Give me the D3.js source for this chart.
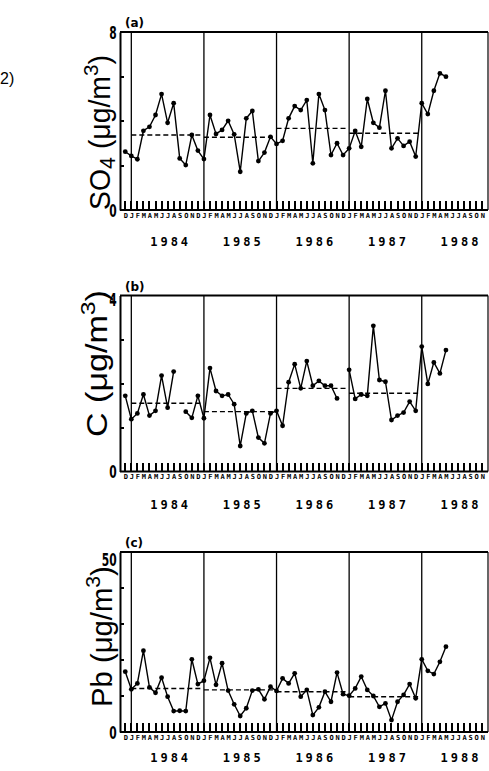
<!DOCTYPE html>
<html><head><meta charset="utf-8">
<script src="https://cdn.jsdelivr.net/npm/d3@7"></script>
<style>body{margin:0;background:#fff;} svg{display:block;}</style>
</head><body>
<svg id="chart" width="489" height="771"></svg>
<script>
// ---- data ----
const monthInitials = ["J","F","M","A","M","J","J","A","S","O","N","D"];
const years = [1984, 1985, 1986, 1987, 1988];
// index 0 = Dec 1983, index 1 = Jan 1984 ... index 53 = May 1988
const so4 = [2.62,2.43,2.28,3.56,3.74,4.27,5.21,3.92,4.80,2.32,2.02,3.37,2.67,
  2.29,4.27,3.42,3.60,4.01,3.40,1.72,4.12,4.45,2.20,2.58,3.29,
  2.97,3.11,4.12,4.67,4.49,4.94,2.10,5.21,4.49,2.47,3.00,2.47,
  2.77,3.55,2.84,4.99,3.92,3.70,5.36,2.77,3.22,2.88,3.07,2.40,
  4.80,4.31,5.36,6.14,5.99];
const carbon = [1.72,1.19,1.32,1.75,1.27,1.38,2.18,1.45,2.27,null,1.36,1.22,1.72,
  1.21,2.35,1.83,1.72,1.75,1.53,0.58,1.32,1.38,0.77,0.64,1.32,
  1.38,1.04,2.03,2.44,1.89,2.51,1.95,2.06,1.95,1.95,1.66,null,
  2.31,1.65,1.75,1.72,3.31,2.08,2.04,1.17,1.27,1.34,1.59,1.38,
  2.84,1.99,2.48,2.23,2.76];
const lead = [16.75,11.85,13.5,22.6,12.4,10.9,15.1,9.8,5.8,5.9,5.8,20.2,13.3,
  14.25,20.6,13.1,19.1,11.5,7.7,4.45,6.6,11.5,11.85,9.1,12.6,
  11.4,14.9,13.5,16.3,9.8,11.7,4.7,6.85,11.2,8.4,16.5,10.5,
  10.1,12.1,15.4,11.7,10.0,7.0,7.95,3.3,8.4,10.3,13.3,9.35,
  20.2,17.0,16.1,19.5,23.7];
const so4Means = [3.37, 3.27, 3.67, 3.45];
const carbonMeans = [1.55, 1.36, 1.89, 1.78];
const leadMeans = [12.1, 11.7, 11.2, 9.8];
const monthLabels = ["D"].concat(years.flatMap(() => monthInitials));

const panels = [
  {tag:"(a)", values:so4, means:so4Means, yMax:8, step:2, top:32, bottom:210,
   yearY:242, species:[["SO",0],["4",1]], titleX:110, titleY0:210, titleLen:155, topLabelDy:0},
  {tag:"(b)", values:carbon, means:carbonMeans, yMax:4, step:1, top:295.5, bottom:471.5,
   yearY:505, species:[["C",0]], titleX:107, titleY0:437, titleLen:147, topLabelDy:4},
  {tag:"(c)", values:lead, means:leadMeans, yMax:50, step:10, top:552, bottom:732,
   yearY:758, species:[["Pb",0]], titleX:112, titleY0:707, titleLen:141, topLabelDy:7}
];

const svg = d3.select("#chart");
const left = 120, right = 488;
const x = d3.scaleLinear().domain([-0.87, 59.95]).range([left, right]);
const monthIdx = d3.range(0, 60);

svg.append("text").attr("x", 0).attr("y", 84)
  .style("font-family","Liberation Sans, Arial, sans-serif").style("font-size","16px")
  .text("2)");

panels.forEach(p => {
  const g = svg.append("g");
  const y = d3.scaleLinear().domain([0, p.yMax]).range([p.bottom, p.top]);
  const yTicks = d3.range(0, p.yMax + p.step/2, p.step);

  // frame: top and right
  g.append("line").attr("x1", left).attr("x2", right).attr("y1", p.top).attr("y2", p.top)
    .attr("stroke","#000").attr("stroke-width",2);
  g.append("line").attr("x1", right).attr("x2", right).attr("y1", p.top).attr("y2", p.bottom)
    .attr("stroke","#000").attr("stroke-width",1.2);

  // left axis (labels only at 0 and max)
  const ya = d3.axisLeft(y).tickValues(yTicks).tickSize(0).tickPadding(4)
    .tickFormat(d => (d === 0 || d === p.yMax) ? d : "");
  const yg = g.append("g").attr("transform", `translate(${left},0)`).call(ya);
  yg.select(".domain").attr("stroke","#000").attr("stroke-width", 2);
  yg.selectAll(".tick text")
    .style("font-family","DejaVu Sans Condensed, DejaVu Sans, sans-serif")
    .style("font-weight","bold").style("font-size","18px")
    .attr("fill","#000")
    .attr("x", -5)
    .attr("transform","scale(0.66,1)")
    .attr("dy", d => d === p.yMax ? (0.35*18 + p.topLabelDy) + "px" : "0.35em");
  // inward minor ticks on the left axis
  g.selectAll("rect.ytick").data(yTicks.slice(1, -1)).enter().append("rect")
    .attr("class","ytick")
    .attr("x", left).attr("y", d => Math.round(y(d)) - 1).attr("width", 4).attr("height", 2)
    .attr("fill","#000");

  // bottom month axis
  const xa = d3.axisBottom(x).tickValues(monthIdx).tickSize(0).tickPadding(3)
    .tickFormat(i => monthLabels[i]);
  const xg = g.append("g").attr("transform", `translate(0,${p.bottom})`).call(xa);
  xg.select(".domain").attr("stroke","#000").attr("stroke-width", 2).attr("d", `M${left},0H${right}`);
  xg.selectAll(".tick text")
    .style("font-family","DejaVu Sans Mono, monospace").style("font-weight","bold")
    .style("font-size","7px").attr("fill","#000");
  // month tick marks pointing up into the plot
  g.selectAll("rect.mtick").data(monthIdx).enter().append("rect")
    .attr("class","mtick")
    .attr("x", d => Math.round(x(d)) - 1).attr("y", Math.round(p.bottom) - 9)
    .attr("width", 2).attr("height", 9)
    .attr("fill","#000");

  // year separators and year labels
  years.forEach((yr, k) => {
    const xi = x(1 + 12*k);
    g.append("line").attr("x1", xi).attr("x2", xi).attr("y1", p.top).attr("y2", p.bottom)
      .attr("stroke","#000").attr("stroke-width",1.3);
    g.append("text").attr("x", x(1 + 12*k + 6.5)).attr("y", p.yearY)
      .attr("text-anchor","middle").attr("dy","0.35em")
      .style("font-family","DejaVu Sans Mono, monospace").style("font-weight","bold")
      .style("font-size","12px").style("letter-spacing","3px")
      .text(yr);
  });

  // annual means (dashed)
  p.means.forEach((m, k) => {
    g.append("line").attr("x1", x(1 + 12*k)).attr("x2", x(1 + 12*k + 11.6))
      .attr("y1", y(m)).attr("y2", y(m))
      .attr("stroke","#000").attr("stroke-width",1.4).attr("stroke-dasharray","5,3");
  });

  // series
  const pts = p.values.map((v, i) => ({i, v}));
  const line = d3.line().defined(d => d.v != null).x(d => x(d.i)).y(d => y(d.v));
  g.append("path").attr("d", line(pts)).attr("fill","none")
    .attr("stroke","#000").attr("stroke-width",1.4);
  g.selectAll("circle.pt").data(pts.filter(d => d.v != null)).enter().append("circle")
    .attr("cx", d => x(d.i)).attr("cy", d => y(d.v)).attr("r", 2.4).attr("fill","#000");

  // panel tag
  g.append("text").attr("x", left + 5).attr("y", p.top - 5)
    .style("font-family","DejaVu Sans, sans-serif").style("font-weight","bold")
    .style("font-size","12px").text(p.tag);

  // y title
  const t = g.append("text").attr("transform", `translate(${p.titleX},${p.titleY0}) rotate(-90)`)
    .style("font-family","Liberation Sans, Arial, sans-serif").style("font-size","29px");
  p.species.forEach(([s, sub]) => {
    if (sub) t.append("tspan").attr("dy", 5).style("font-size","22px").text(s);
    else t.append("tspan").text(s);
  });
  t.append("tspan").attr("dy", p.species.length > 1 ? -5 : 0).text(" (\u03bcg/m");
  t.append("tspan").attr("dy", -12).style("font-size","21px").text("3");
  t.append("tspan").attr("dy", 12).text(")");
  const w = t.node().getComputedTextLength();
  t.attr("transform", `translate(${p.titleX},${p.titleY0}) rotate(-90) scale(${p.titleLen / w},1)`);
});
</script>
</body></html>
